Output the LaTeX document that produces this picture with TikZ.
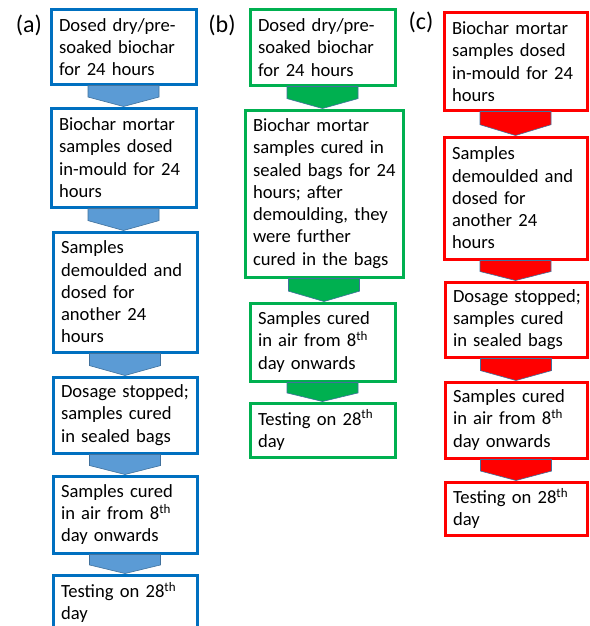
\documentclass[tikz,border=0pt]{standalone}
\usepackage{fontspec}
\setmainfont{Carlito}
\usetikzlibrary{calc}
\definecolor{bordA}{RGB}{0,112,192}
\definecolor{fillA}{RGB}{91,155,213}
\definecolor{edgeArr}{RGB}{65,113,156}
\definecolor{colB}{RGB}{0,176,80}
\definecolor{colC}{RGB}{255,0,0}
\newcommand\flowarr[3]{%
  \path[#1] let \p1=(#2.south), \p2=(#3.north) in
    (\x1-35.5pt,\y1) -- (\x1+35.5pt,\y1) -- (\x1+35.5pt,{0.45*\y1+0.55*\y2})
    -- (\x1,\y2) -- (\x1-35.5pt,{0.45*\y1+0.55*\y2}) -- cycle;}
\begin{document}
\begin{tikzpicture}[x=1pt,y=-1pt,
  box/.style={draw, line width=3pt, fill=white, rectangle, inner xsep=8pt,
    inner ysep=0pt, align=left, anchor=center,
    font=\fontsize{18.6}{22.3}\selectfont},
  boxA/.style={box, draw=bordA},
  boxB/.style={box, draw=colB},
  boxC/.style={box, draw=colC},
  arrA/.style={fill=fillA, draw=edgeArr, line width=0.6pt},
  arrB/.style={fill=colB, draw=edgeArr, line width=0.6pt},
  arrC/.style={fill=colC, draw=edgeArr, line width=0.6pt},
  lbl/.style={font=\fontsize{24}{28}\selectfont, inner sep=0pt}]
\useasboundingbox (0,0) rectangle (589,626);
\clip (0,0) rectangle (589,626);
% labels
\node[lbl] (la) at (29,25) {(a)};
\node[lbl] (lb) at (222,25) {(b)};
\node[lbl] (lc) at (421,22) {(c)};
% column a
\node[boxA, text width=129pt, minimum height=74pt] (a1) at (123.5,47) {Dosed~dry/pre-\\soaked~biochar\\for~24~hours};
\node[boxA, text width=129pt, minimum height=99pt] (a2) at (123.5,157.5) {Biochar~mortar\\samples~dosed\\in-mould~for~24\\hours};
\node[boxA, text width=128pt, minimum height=120pt] (a3) at (125,292) {Samples\\demoulded~and\\dosed~for\\another~24\\hours};
\node[boxA, text width=128pt, minimum height=76pt] (a4) at (125,415) {Dosage~stopped;\\samples~cured\\in~sealed~bags};
\node[boxA, text width=128pt, minimum height=77pt] (a5) at (125,514.5) {Samples~cured\\in~air~from~8\textsuperscript{th}\\day~onwards};
\node[boxA, text width=128pt, minimum height=55pt] (a6) at (125,602.5) {Testing~on~28\textsuperscript{th}\\day};
% column b
\node[boxB, text width=129pt, minimum height=75pt] (b1) at (322.5,47.5) {Dosed~dry/pre-\\soaked~biochar\\for~24~hours};
\node[boxB, text width=142pt, minimum height=167pt] (b2) at (324,193.5) {Biochar~mortar\\samples~cured~in\\sealed~bags~for~24\\hours;~after\\demoulding,~they\\were~further\\cured~in~the~bags};
\node[boxB, text width=129pt, minimum height=78pt] (b3) at (322.5,342) {Samples~cured\\in~air~from~8\textsuperscript{th}\\day~onwards};
\node[boxB, text width=129pt, minimum height=54pt] (b4) at (322.5,430) {Testing~on~28\textsuperscript{th}\\day};
% column c
\node[boxC, text width=127pt, minimum height=97pt] (c1) at (515.5,61.5) {Biochar~mortar\\samples~dosed\\in-mould~for~24\\hours};
\node[boxC, text width=127pt, minimum height=122pt] (c2) at (515.5,198) {Samples\\demoulded~and\\dosed~for\\another~24\\hours};
\node[boxC, text width=126pt, minimum height=75pt] (c3) at (516,319.5) {Dosage~stopped;\\samples~cured\\in~sealed~bags};
\node[boxC, text width=126pt, minimum height=76pt] (c4) at (516,420) {Samples~cured\\in~air~from~8\textsuperscript{th}\\day~onwards};
\node[boxC, text width=126pt, minimum height=53pt] (c5) at (516,508.5) {Testing~on~28\textsuperscript{th}\\day};
% arrows
\flowarr{arrA}{a1}{a2}
\flowarr{arrA}{a2}{a3}
\flowarr{arrA}{a3}{a4}
\flowarr{arrA}{a4}{a5}
\flowarr{arrA}{a5}{a6}
\flowarr{arrB}{b1}{b2}
\flowarr{arrB}{b2}{b3}
\flowarr{arrB}{b3}{b4}
\flowarr{arrC}{c1}{c2}
\flowarr{arrC}{c2}{c3}
\flowarr{arrC}{c3}{c4}
\flowarr{arrC}{c4}{c5}
\end{tikzpicture}
\end{document}
